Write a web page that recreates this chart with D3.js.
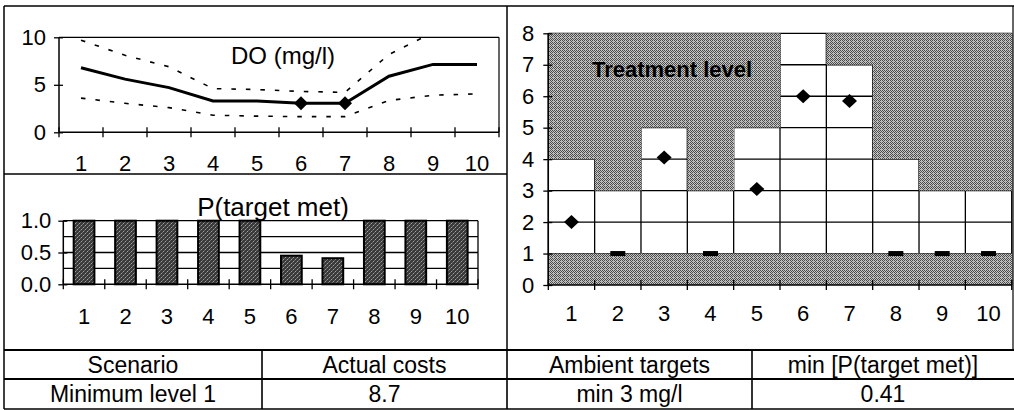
<!DOCTYPE html>
<html><head><meta charset="utf-8">
<script src="https://cdn.jsdelivr.net/npm/d3@7"></script>
<style>
html,body{margin:0;padding:0;background:#fff;}
text{font-family:"Liberation Sans",Arial,sans-serif;fill:#000;}
</style></head>
<body>
<script>
// ---- data ----
const categories = [1,2,3,4,5,6,7,8,9,10];
const doMean  = [6.8,5.6,4.7,3.3,3.3,3.05,3.05,5.9,7.15,7.15];
const doUpper = [9.7,8.1,6.9,4.6,4.5,4.3,4.2,8.2,10.5,10.5];
const doLower = [3.6,3.05,2.6,1.8,1.7,1.65,1.65,3.35,3.9,4.05];
const doMarked = [6,7];
const doTicks = [0,5,10];
const pMet = [1,1,1,1,1,0.45,0.41,1,1,1];
const pTicks = [0,0.5,1];
const pGrid = [0.25,0.5,0.75,1];
const treatLower = [1,1,1,1,1,1,1,1,1,1];
const treatUpper = [4,3,5,3,5,8,7,4,3,3];
const treatLevel = [2,1,4.05,1,3.05,6.0,5.85,1,1,1];
const treatTicks = [0,1,2,3,4,5,6,7,8];
const tableHeader = ["Scenario","Actual costs","Ambient targets","min [P(target met)]"];
const tableRow = ["Minimum level 1","8.7","min 3 mg/l","0.41"];

const W = 1014, H = 410;
const svg = d3.select("body").append("svg").attr("width",W).attr("height",H);
svg.append("rect").attr("width",W).attr("height",H).attr("fill","#fff");

// textures
const defs = svg.append("defs");
const g1 = defs.append("pattern").attr("id","grayTex").attr("width",4).attr("height",4).attr("patternUnits","userSpaceOnUse");
g1.append("rect").attr("width",4).attr("height",4).attr("fill","#c4c4c4");
[[0,0],[2,0],[1,1],[3,1],[0,2],[2,2],[1,3],[3,3]].forEach(p=>g1.append("rect").attr("x",p[0]).attr("y",p[1]).attr("width",1).attr("height",1).attr("fill","#4c4c4c"));
g1.append("rect").attr("x",1).attr("y",1).attr("width",1).attr("height",1).attr("fill","#a8a8a8");
const g2 = defs.append("pattern").attr("id","barTex").attr("width",4).attr("height",4).attr("patternUnits","userSpaceOnUse");
g2.append("rect").attr("width",4).attr("height",4).attr("fill","#3a3a3a");
[[1,1],[3,3]].forEach(p=>g2.append("rect").attr("x",p[0]).attr("y",p[1]).attr("width",1).attr("height",1).attr("fill","#a0a0a0"));
[[0,2],[2,0]].forEach(p=>g2.append("rect").attr("x",p[0]).attr("y",p[1]).attr("width",1).attr("height",1).attr("fill","#707070"));

const FS = 22;
function line(x1,y1,x2,y2,w,c){svg.append("line").attr("x1",x1).attr("y1",y1).attr("x2",x2).attr("y2",y2).attr("stroke",c||"#000").attr("stroke-width",w||1);}
function diamond(hw,hh){return `M0,${-hh}L${hw},0L0,${hh}L${-hw},0Z`;}

function catAxis(x, y0, pad){
  const ax = svg.append("g").attr("transform",`translate(0,${y0})`)
    .call(d3.axisBottom(x).tickSize(0).tickPadding(pad));
  ax.select(".domain").remove();
  ax.selectAll("text").attr("font-size",FS).style("font-family","Liberation Sans, Arial, sans-serif");
  const r = x.range();
  line(r[0],y0,r[1],y0,1.5);
  const bounds = categories.map(c=>x(c)).concat([r[1]]);
  bounds.forEach(b=>line(b,y0-5,b,y0+5,1.3));
}
function valAxis(y, x0, vals, fmt, pad){
  const ax = svg.append("g").attr("transform",`translate(${x0},0)`)
    .call(d3.axisLeft(y).tickValues(vals).tickFormat(fmt).tickSize(4).tickPadding(pad));
  ax.select(".domain").remove();
  ax.selectAll(".tick line").attr("x1",-5).attr("x2",4).attr("stroke","#000").attr("stroke-width",1.3);
  ax.selectAll("text").attr("font-size",FS).style("font-family","Liberation Sans, Arial, sans-serif");
  const r = y.range();
  line(x0,r[0],x0,r[1],1.5);
}

// ---------- DO chart ----------
const xDO = d3.scaleBand().domain(categories).range([59,499]);
const yDO = d3.scaleLinear().domain([0,10]).range([132.3,37.3]);
defs.append("clipPath").attr("id","clipDO").append("rect").attr("x",59).attr("y",36).attr("width",440).attr("height",97);
line(59,37.3,499,37.3,1.2); line(499,37.3,499,132.3,1.2);
const cx = c=>xDO(c)+xDO.bandwidth()/2;
const lg = d3.line().x((d,i)=>cx(categories[i])).y(d=>yDO(d));
const gDO = svg.append("g").attr("clip-path","url(#clipDO)");
[doUpper,doLower].forEach(arr=>gDO.append("path").attr("d",lg(arr)).attr("fill","none").attr("stroke","#000").attr("stroke-width",1.6).attr("stroke-dasharray","4.5,10"));
gDO.append("path").attr("d",lg(doMean)).attr("fill","none").attr("stroke","#000").attr("stroke-width",3);
valAxis(yDO,59,doTicks,d3.format("d"),9);
catAxis(xDO,132.3,23);
doMarked.forEach(c=>{const i=categories.indexOf(c);
  svg.append("path").attr("d",diamond(7,7)).attr("transform",`translate(${cx(c)},${yDO(doMean[i])})`).attr("fill","#000");});
svg.append("text").attr("x",283).attr("y",64).attr("text-anchor","middle").attr("font-size",24).text("DO (mg/l)");

// ---------- P chart ----------
const xP = d3.scaleBand().domain(categories).range([63.3,478]).paddingInner(0.5).paddingOuter(0.25);
const xPa = d3.scaleBand().domain(categories).range([63.3,478]);
const yP = d3.scaleLinear().domain([0,1]).range([284.3,220.7]);
pGrid.forEach(v=>line(63.3,yP(v),478,yP(v),1.3));
line(478,yP(1),478,yP(0),1.3);
svg.append("g").selectAll("rect").data(pMet).join("rect")
  .attr("x",(d,i)=>xP(categories[i])).attr("width",xP.bandwidth())
  .attr("y",d=>yP(d)).attr("height",d=>yP(0)-yP(d))
  .attr("fill","url(#barTex)").attr("stroke","#000").attr("stroke-width",2);
valAxis(yP,63.3,pTicks,d3.format(".1f"),8);
catAxis(xPa,284.3,24);
svg.append("text").attr("x",273).attr("y",216).attr("text-anchor","middle").attr("font-size",26).text("P(target met)");

// ---------- Treatment chart ----------
const xT = d3.scaleBand().domain(categories).range([548.3,1011.7]);
const yT = d3.scaleLinear().domain([0,8]).range([285,33.3]);
svg.append("rect").attr("x",548.3).attr("y",yT(8)).attr("width",463.4).attr("height",yT(0)-yT(8)).attr("fill","#fff");
treatTicks.slice(1).forEach(v=>line(548.3,yT(v),1011.7,yT(v),1.3));
categories.forEach(c=>line(xT(c),yT(0),xT(c),yT(8),1.3));
line(1011.7,yT(0),1011.7,yT(8),1.3);
svg.append("g").selectAll("rect.lo").data(treatLower).join("rect")
  .attr("x",(d,i)=>xT(categories[i])).attr("width",xT.bandwidth()+0.5)
  .attr("y",d=>yT(d)).attr("height",d=>yT(0)-yT(d)).attr("fill","url(#grayTex)");
svg.append("g").selectAll("rect.hi").data(treatUpper).join("rect")
  .attr("x",(d,i)=>xT(categories[i])).attr("width",xT.bandwidth()+0.5)
  .attr("y",yT(8)).attr("height",d=>yT(d)-yT(8)).attr("fill","url(#grayTex)");
valAxis(yT,548.3,treatTicks,d3.format("d"),10);
catAxis(xT,285,20);
const tx = c=>xT(c)+xT.bandwidth()/2;
treatLevel.forEach((v,i)=>{
  const c = categories[i];
  if(v>1){
    svg.append("path").attr("d",diamond(7.5,7)).attr("transform",`translate(${tx(c)},${yT(v)})`).attr("fill","#000");
  } else {
    svg.append("rect").attr("x",tx(c)-7.5).attr("y",yT(v)-2.5).attr("width",15).attr("height",5).attr("fill","#000");
  }
});
svg.append("text").attr("x",672).attr("y",77).attr("text-anchor","middle").attr("font-size",22).attr("font-weight","bold").text("Treatment level");

// ---------- panel frames ----------
line(4,6,1014,6,1.6);
line(4,6,4,350,1.5);
line(4,174,507,174,1.6);
line(507,6,507,350,1.5);
line(1013,6,1013,350,1.2);

// ---------- table ----------
const colX = [4,262,507,752,1014];
const rowY = [350,379,409];
line(4,rowY[0],1014,rowY[0],2.2);
line(4,rowY[1],1014,rowY[1],1.8);
line(4,rowY[2],1014,rowY[2],1.5);
colX.forEach((x,i)=>{ if(i>0 && i<colX.length-1) line(x,rowY[0],x,rowY[2],1.6); });
line(4,rowY[0],4,rowY[2],1.5);
[tableHeader,tableRow].forEach((row,r)=>{
  row.forEach((t,i)=>{
    svg.append("text").attr("x",(colX[i]+colX[i+1])/2).attr("y",(rowY[r]+rowY[r+1])/2).attr("dy","0.36em")
      .attr("text-anchor","middle").attr("font-size",23).text(t);
  });
});
</script>
</body></html>
